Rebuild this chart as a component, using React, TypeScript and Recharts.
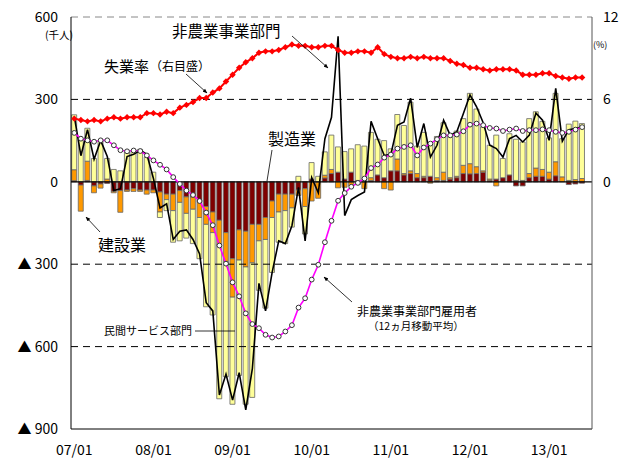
import React from 'react';
import {
  ComposedChart,
  Bar,
  Line,
  XAxis,
  YAxis,
  ReferenceLine,
} from 'recharts';

// months 07/01 .. 13/07 (last slot empty)
const months: string[] = [];
for (let y = 7; y <= 13; y++) {
  for (let m = 1; m <= 12; m++) {
    if (months.length < 79) months.push(`${String(y).padStart(2, '0')}/${String(m).padStart(2, '0')}`);
  }
}
const yearTicks = ['07/01', '08/01', '09/01', '10/01', '11/01', '12/01', '13/01'];

// 製造業 (千人)
const manufacturing = [
  4, -12, 5, -15, -8, -6, -35, -32, -30, -25, -30, -30,
  -30, -37, -45, -45, -32, -55, -55, -70, -90, -110, -140, -185,
  -280, -175, -180, -155, -155, -130, -70, -45, -45, -45, -30, -25,
  10, 0, 14, 30, 35, 10, 35, -10, 0, 5, 25, 15,
  40, 40, 25, 30, 15, 15, 20, 5, 5, 10, 15, 30,
  29, 30, 35, 5, 10, 15, 25, -15, -15, 15, 20, 20,
  10, 22, 0, -10, -8, -5,
];

// 建設業
const construction = [
  40, -95, 70, -25, -15, 10, -5, -79, -5, -10, -5, -15,
  -10, -73, -20, -60, -43, -60, -45, -60, -65, -75, -90, -105,
  -140, -110, -130, -140, -60, -80, -60, -65, -60, -50, -20, -65,
  -70, -60, 10, 15, -22, -20, -15, 5, -25, 10, 0, -25,
  -30, 43, 5, 10, 15, 5, -5, 10, 30, 5, 5, 30,
  37, 25, 5, 5, -15, 0, 0, 5, 5, 15, 30, 25,
  25, 51, 18, 5, 8, 12,
];

// 民間サービス部門
const services = [
  200, 155, 120, 85, 150, 75, 45, 40, 110, 115, 118, 90,
  35, -20, -40, -115, -140, -90, -125, -150, -300, -300, -560, -420,
  -390, -420, -500, -490, -180, -250, -200, -110, -120, -70, 20, -100,
  60, 20, 85, 125, 92, 100, 85, 130, 130, 165, 130, 135,
  80, 162, 175, 250, 100, 160, 120, 150, 180, 150, 165, 170,
  256, 210, 160, 123, 160, 70, 150, 150, 140, 200, 205, 175,
  125, 249, 139, 205, 213, 200,
];

// 非農業事業部門雇用者 (前月差)
const nonfarm = [
  238, 95, 190, 82, 150, 92, -32, -25, 92, 100, 115, 100,
  12, -95, -80, -210, -180, -175, -210, -263, -440, -470, -776, -700,
  -795, -695, -830, -680, -370, -470, -330, -215, -225, -160, -20, -215,
  15, -40, 157, 235, 530, -123, -65, -50, -37, 220, 157, 96,
  100, 206, 218, 304, 125, 212, 90, 133, 224, 169, 182, 249,
  316, 273, 215, 133, 121, 90, 157, 169, 145, 170, 250, 224,
  151, 340, 148, 190, 194, 200,
];

// 12ヵ月移動平均
const movingAvg = [
  178, 157, 151, 146, 151, 151, 133, 115, 111, 114, 112, 96,
  78, 62, 45, 17, -8, -32, -48, -70, -112, -158, -232, -298,
  -366, -417, -479, -518, -533, -557, -567, -563, -545, -522, -458, -424,
  -356, -302, -220, -142, -69, -41, -18, -4, 12, 50, 63, 88,
  99, 121, 127, 133, 96, 125, 139, 155, 169, 169, 172, 184,
  208, 212, 206, 196, 194, 185, 190, 194, 185, 188, 188, 191,
  188, 182, 178, 182, 190, 199,
];

// 失業率 (%)
const unemployment = [
  4.6, 4.5, 4.4, 4.5, 4.4, 4.6, 4.7, 4.6, 4.7, 4.7, 4.7, 5.0,
  5.0, 4.9, 5.1, 5.0, 5.4, 5.6, 5.8, 6.1, 6.1, 6.5, 6.8, 7.3,
  7.8, 8.3, 8.7, 9.0, 9.4, 9.5, 9.5, 9.6, 9.8, 10.0, 9.9, 9.9,
  9.8, 9.8, 9.9, 9.9, 9.6, 9.4, 9.4, 9.5, 9.5, 9.4, 9.8, 9.3,
  9.1, 9.0, 9.0, 9.1, 9.0, 9.1, 9.0, 9.0, 9.0, 8.8, 8.6, 8.5,
  8.3, 8.3, 8.2, 8.1, 8.2, 8.2, 8.2, 8.1, 7.8, 7.8, 7.8, 7.9,
  7.9, 7.7, 7.6, 7.5, 7.6, 7.6,
];

const leftTicks = [-900, -600, -300, 0, 300, 600];
const rightTicks = [0, 6, 12];

const data = months.map((m, i) => ({
  month: m,
  mfg: manufacturing[i] ?? null,
  con: construction[i] ?? null,
  svc: services[i] ?? null,
  total: nonfarm[i] ?? null,
  ma: movingAvg[i] ?? null,
  ur: unemployment[i] ?? null,
}));

const FONT = '"Noto Sans CJK JP", "Noto Sans", sans-serif';

const Diamond = (props: any) => {
  const { cx, cy, index } = props;
  if (cx == null || cy == null || props.value == null) return <g key={index} />;
  const s = 3.2;
  return (
    <path
      key={index}
      d={`M${cx},${cy - s}L${cx + s},${cy}L${cx},${cy + s}L${cx - s},${cy}Z`}
      fill="#FF0000"
    />
  );
};

const label = (text: string, left: number, top: number, size: number) => (
  <div
    style={{
      position: 'absolute',
      left,
      top,
      fontSize: size,
      lineHeight: 1,
      fontFamily: FONT,
      whiteSpace: 'nowrap',
      color: '#000',
    }}
  >
    {text}
  </div>
);

export default function App() {
  return (
    <div style={{ position: 'absolute', left: 0, top: 0, width: 625, height: 459, background: '#fff' }}>
      <ComposedChart
        width={625}
        height={459}
        data={data}
        stackOffset="sign"
        barCategoryGap="10%"
        margin={{ top: 17, right: 0, bottom: 0, left: 0 }}
      >
        <XAxis
          dataKey="month"
          interval={0}
          tickFormatter={(v: string) => (yearTicks.includes(v) ? v : '')}
          tickLine={false}
          tickSize={0}
          tickMargin={16}
          height={30}
          axisLine={{ stroke: '#000' }}
          tick={{ fill: '#000', fontSize: 14, fontFamily: FONT }}
        />
        <YAxis
          yAxisId="left"
          domain={[-900, 600]}
          ticks={leftTicks}
          width={71}
          tickLine={false}
          tickSize={0}
          tickMargin={13}
          axisLine={{ stroke: '#000' }}
          tickFormatter={(v: number) => (v < 0 ? `▲ ${-v}` : `${v}`)}
          tick={{ fill: '#000', fontSize: 14, fontFamily: FONT }}
        />
        <YAxis
          yAxisId="right"
          orientation="right"
          domain={[-18, 12]}
          ticks={rightTicks}
          width={33}
          tickLine={false}
          tickSize={0}
          tickMargin={11}
          axisLine={{ stroke: '#555' }}
          tick={{ fill: '#000', fontSize: 14, fontFamily: FONT }}
        />
        <ReferenceLine yAxisId="left" y={600} stroke="#888" strokeDasharray="7 5" />
        <ReferenceLine yAxisId="left" y={300} stroke="#000" strokeDasharray="7 5" />
        <ReferenceLine yAxisId="left" y={-300} stroke="#000" strokeDasharray="7 5" />
        <ReferenceLine yAxisId="left" y={-600} stroke="#000" strokeDasharray="7 5" />

        <Bar yAxisId="left" dataKey="mfg" stackId="a" fill="#800000" stroke="#666" strokeWidth={0.8} isAnimationActive={false} />
        <Bar yAxisId="left" dataKey="con" stackId="a" fill="#FF9900" stroke="#666" strokeWidth={0.8} isAnimationActive={false} />
        <Bar yAxisId="left" dataKey="svc" stackId="a" fill="#FFFF99" stroke="#666" strokeWidth={0.8} isAnimationActive={false} />

        <ReferenceLine yAxisId="left" y={0} stroke="#000" strokeWidth={1.2} />

        <Line
          yAxisId="left"
          dataKey="total"
          stroke="#000"
          strokeWidth={1.6}
          dot={false}
          isAnimationActive={false}
        />
        <Line
          yAxisId="left"
          dataKey="ma"
          stroke="#FF00FF"
          strokeWidth={1.6}
          dot={{ r: 2.4, fill: '#fff', stroke: '#333', strokeWidth: 1 }}
          isAnimationActive={false}
        />
        <Line
          yAxisId="right"
          dataKey="ur"
          stroke="#FF0000"
          strokeWidth={2}
          dot={(p: any) => <Diamond {...p} />}
          isAnimationActive={false}
        />
      </ComposedChart>

      <svg
        width={625}
        height={459}
        style={{ position: 'absolute', left: 0, top: 0, pointerEvents: 'none' }}
      >
        <defs>
          <marker id="arr" viewBox="0 0 10 10" refX="9" refY="5" markerWidth="6" markerHeight="6" orient="auto">
            <path d="M0,1 L10,5 L0,9 z" fill="#000" />
          </marker>
        </defs>
        <line x1={292} y1={36} x2={328} y2={68} stroke="#000" strokeWidth={0.8} markerEnd="url(#arr)" />
        <line x1={186} y1={74} x2={207} y2={93} stroke="#000" strokeWidth={0.8} markerEnd="url(#arr)" />
        <line x1={272} y1={150} x2={267} y2={181} stroke="#000" strokeWidth={0.8} />
        <line x1={100} y1={232} x2={86} y2={217} stroke="#000" strokeWidth={0.8} markerEnd="url(#arr)" />
        <line x1={195} y1={331} x2={235} y2={331} stroke="#000" strokeWidth={0.8} />
        <line x1={352} y1={302} x2={324} y2={277} stroke="#000" strokeWidth={0.8} markerEnd="url(#arr)" />
      </svg>

      {label('(千人)', 45, 30, 10.5)}
      {label('(%)', 593, 40, 9)}
      {label('非農業事業部門', 172, 23, 15.5)}
      {label('失業率', 104, 58, 15)}
      {label('（右目盛）', 150, 60, 12)}
      {label('製造業', 268, 130, 16)}
      {label('建設業', 98, 236, 16)}
      {label('民間サービス部門', 104, 325, 11)}
      {label('非農業事業部門雇用者', 357, 305, 12)}
      {label('（12ヵ月移動平均）', 368, 321, 10.5)}
    </div>
  );
}
